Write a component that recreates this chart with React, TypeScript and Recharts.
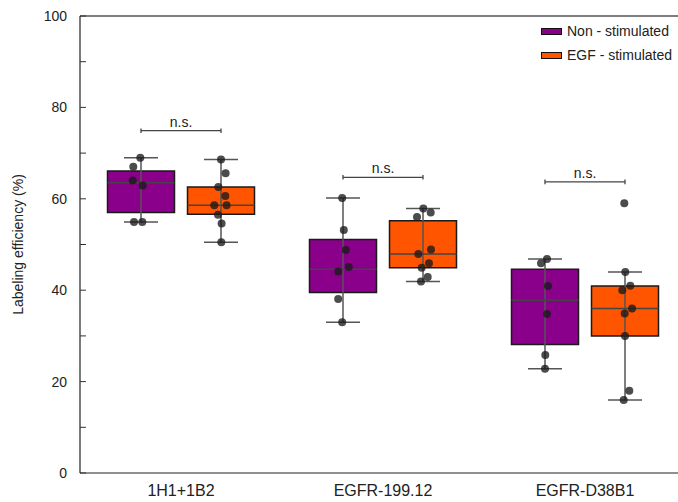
import React from 'react';
import {
  ComposedChart, XAxis, YAxis, Scatter, ReferenceArea, ReferenceLine,
} from 'recharts';

// ---------- data ----------
const categories = ['1H1+1B2', 'EGFR-199.12', 'EGFR-D38B1'];
const seriesNames = ['Non - stimulated', 'EGF - stimulated'];

// box statistics per category: [whiskerLow, q1, median, q3, whiskerHigh]
const nonStimBoxes = [
  [54.9, 57.0, 63.5, 66.1, 69.0],
  [33.0, 39.5, 44.6, 51.1, 60.2],
  [22.8, 28.1, 37.8, 44.6, 46.8],
];
const egfStimBoxes = [
  [50.5, 56.6, 58.6, 62.6, 68.6],
  [41.9, 44.9, 47.9, 55.2, 57.9],
  [16.0, 30.0, 36.0, 40.9, 44.0],
];

// individual measurements per category
const nonStimPoints = [
  [69.0, 67.0, 64.0, 62.9, 54.9, 54.9],
  [60.2, 53.2, 48.8, 45.1, 44.1, 38.1, 33.0],
  [46.8, 45.9, 40.9, 34.8, 25.8, 22.8],
];
const egfStimPoints = [
  [68.6, 65.6, 62.6, 60.6, 58.6, 58.6, 56.5, 54.6, 50.5],
  [57.9, 57.0, 56.0, 48.9, 47.9, 45.9, 44.9, 42.9, 41.9],
  [59.0, 44.0, 41.0, 40.0, 36.0, 34.9, 30.0, 18.0, 16.0],
];

// significance labels and bracket heights
const sigLabels = ['n.s.', 'n.s.', 'n.s.'];
const sigHeights = [74.9, 64.7, 63.7];

const yTicks = [0, 10, 20, 30, 40, 50, 60, 70, 80, 90, 100];

// ---------- styling / layout (not data) ----------
const COLORS = ['#8B008B', '#FF5500'];
const FONT = '"Liberation Sans", Arial, sans-serif';
const PX_PER_UNIT = 202;
const BOX_OFFSET = 40 / PX_PER_UNIT;
const BOX_HALF = 33.5 / PX_PER_UNIT;
const CAP_HALF = 17 / PX_PER_UNIT;
const AXIS_X = 80;
// horizontal jitter of dots (px), presentation only
const nonJitter = [
  [-0.7, -7.7, -8.3, 1.7, -7, 1.3],
  [-0.8, 0.8, 2.8, 5.8, -4.8, -4.8, -0.8],
  [2, -4, 3, 2, 0.3, 0],
];
const egfJitter = [
  [0, 4.6, -2.7, 4.3, -6.7, 5.6, -3, 0.6, 0.3],
  [0.3, 7.7, -6, 8, -4.7, 6, -1.3, 4.7, -2],
  [-0.7, 0.3, 5.3, -2.7, 7, -0.3, 0, 4.3, -1.3],
];

const center = (ci: number, si: number) => ci + 0.5 + (si === 0 ? -BOX_OFFSET : BOX_OFFSET);

const buildPoints = (pts: number[][], jit: number[][], si: number) =>
  pts.flatMap((arr, ci) =>
    arr.map((v, k) => ({ x: center(ci, si) + jit[ci][k] / PX_PER_UNIT, y: v })),
  );

const nonData = buildPoints(nonStimPoints, nonJitter, 0);
const egfData = buildPoints(egfStimPoints, egfJitter, 1);

const Dot = (p: any) => (
  <circle cx={p.cx} cy={p.cy} r={4} fill="#1a1a1a" fillOpacity={0.78} />
);

const YTick = (p: any) => {
  const v = p.payload.value;
  const major = v % 20 === 0;
  return (
    <g>
      <line x1={AXIS_X} x2={AXIS_X + 6} y1={p.y} y2={p.y} stroke="#333" strokeWidth={1} />
      {major && (
        <text x={AXIS_X - 13} y={p.y} dy={5} textAnchor="end" fontSize={14} fill="#222" fontFamily={FONT}>
          {v}
        </text>
      )}
    </g>
  );
};

const LegendBox = () => (
  <div style={{ position: 'absolute', left: 541, top: 19, fontFamily: FONT, fontSize: 14, color: '#222' }}>
    {seriesNames.map((n, i) => (
      <div key={n} style={{ display: 'flex', alignItems: 'center', height: 24, whiteSpace: 'nowrap' }}>
        <span
          style={{
            display: 'inline-block', width: 19, height: 5, background: COLORS[i],
            border: '1px solid #111', marginRight: 5,
          }}
        />
        <span>{n}</span>
      </div>
    ))}
  </div>
);

const renderBoxes = (boxes: number[][], si: number) =>
  boxes.flatMap((b, ci) => {
    const c = center(ci, si);
    const [lo, q1, med, q3, hi] = b;
    const key = `${si}-${ci}`;
    return [
      <ReferenceLine key={`w-${key}`} segment={[{ x: c, y: lo }, { x: c, y: hi }]} stroke="#555" strokeWidth={1.5} />,
      <ReferenceLine key={`cl-${key}`} segment={[{ x: c - CAP_HALF, y: lo }, { x: c + CAP_HALF, y: lo }]} stroke="#555" strokeWidth={1.5} />,
      <ReferenceLine key={`ch-${key}`} segment={[{ x: c - CAP_HALF, y: hi }, { x: c + CAP_HALF, y: hi }]} stroke="#555" strokeWidth={1.5} />,
      <ReferenceArea key={`b-${key}`} x1={c - BOX_HALF} x2={c + BOX_HALF} y1={q1} y2={q3} fill={COLORS[si]} fillOpacity={1} stroke="#1a1a1a" strokeWidth={1.5} />,
      <ReferenceLine key={`m-${key}`} segment={[{ x: c - BOX_HALF, y: med }, { x: c + BOX_HALF, y: med }]} stroke="#444" strokeWidth={1.5} />,
    ];
  });

const renderBrackets = () =>
  sigHeights.flatMap((h, ci) => {
    const a = center(ci, 0);
    const b = center(ci, 1);
    return [
      <ReferenceLine
        key={`s-${ci}`}
        segment={[{ x: a, y: h }, { x: b, y: h }]}
        stroke="#444"
        strokeWidth={1.3}
        label={{ value: sigLabels[ci], position: 'top', offset: 4, fontSize: 14, fill: '#222', fontFamily: FONT }}
      />,
      <ReferenceLine key={`sa-${ci}`} segment={[{ x: a, y: h - 0.5 }, { x: a, y: h + 0.5 }]} stroke="#444" strokeWidth={1.3} />,
      <ReferenceLine key={`sb-${ci}`} segment={[{ x: b, y: h - 0.5 }, { x: b, y: h + 0.5 }]} stroke="#444" strokeWidth={1.3} />,
    ];
  });

export default function App() {
  return (
    <div style={{ position: 'absolute', left: 0, top: 0, width: 678, height: 502, overflow: 'hidden', background: '#fff' }}>
      <ComposedChart
        width={700}
        height={502}
        margin={{ top: 16, right: 14, bottom: 4, left: 0 }}
        style={{ fontFamily: FONT }}
      >
        <XAxis
          type="number"
          dataKey="x"
          domain={[0, 3]}
          ticks={[0.5, 1.5, 2.5]}
          tickFormatter={(v: number) => categories[Math.floor(v)]}
          tickLine={false}
          tickMargin={6}
          height={25}
          axisLine={{ stroke: '#222', strokeWidth: 1.2 }}
          tick={{ fontSize: 16, fill: '#222', fontFamily: FONT }}
          allowDataOverflow
        />
        <YAxis
          type="number"
          domain={[0, 100]}
          ticks={yTicks}
          width={80}
          tickLine={false}
          axisLine={{ stroke: '#222', strokeWidth: 1.2 }}
          tick={<YTick />}
          interval={0}
          label={{
            value: 'Labeling efficiency (%)', angle: -90, position: 'insideLeft',
            dx: 13, fontSize: 14, fill: '#222', fontFamily: FONT, style: { textAnchor: 'middle' },
          }}
        />
        <ReferenceLine y={100} stroke="#555" strokeWidth={1.5} />
        {renderBrackets()}
        {renderBoxes(nonStimBoxes, 0)}
        {renderBoxes(egfStimBoxes, 1)}
        <Scatter name={seriesNames[0]} data={nonData} dataKey="y" shape={<Dot />} isAnimationActive={false} />
        <Scatter name={seriesNames[1]} data={egfData} dataKey="y" shape={<Dot />} isAnimationActive={false} />
      </ComposedChart>
      <LegendBox />
    </div>
  );
}
